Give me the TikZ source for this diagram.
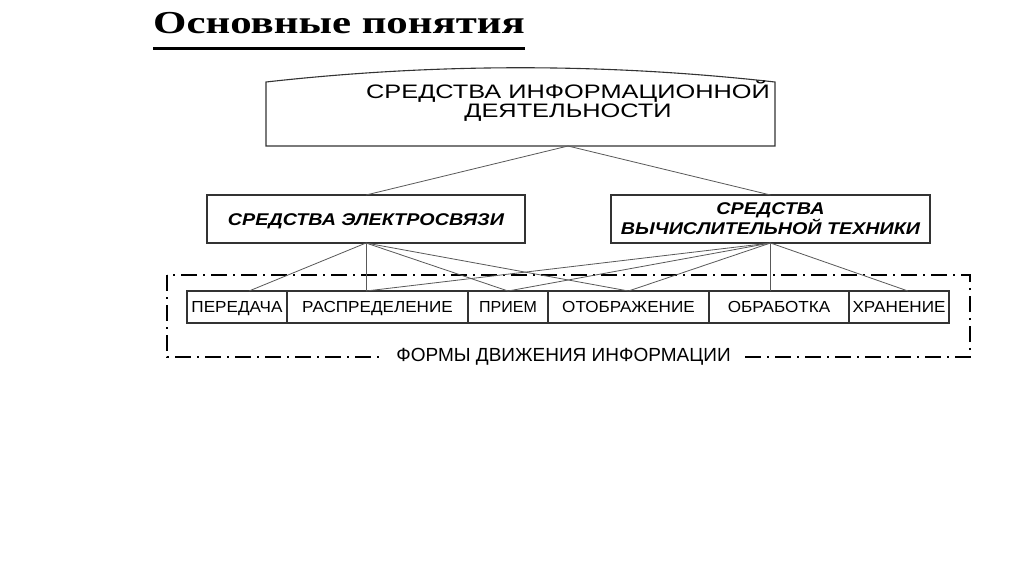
\documentclass[tikz,border=0pt]{standalone}
\usepackage{fontspec}
\setmainfont{Liberation Serif}
\newfontfamily\boxfont{Liberation Sans}
\usetikzlibrary{positioning, calc}

\newcommand{\wide}[2]{\scalebox{#1}[1]{#2}}

\begin{document}
\begin{tikzpicture}[x=1pt, y=-1pt,
    box/.style={draw=black!80, line width=1.1pt, inner sep=0pt, outer sep=0pt},
    form/.style={box, minimum height=32pt, text height=11.5pt, text depth=0pt,
        font=\boxfont\fontsize{16}{17}\selectfont},
    means/.style={box, minimum width=318pt, minimum height=48pt, align=center,
        font=\boxfont\bfseries\itshape\fontsize{17}{18.5}\selectfont},
    link/.style={draw=black!65, line width=0.8pt},
    dashdot frame/.style={line width=1.4pt, dash pattern=on 16pt off 6pt on 2pt off 6pt}]

    % Page
    \fill[white] (0,0) rectangle (1024,574);
    \useasboundingbox (0,0) rectangle (1024,574);

    % Title
    \node[anchor=base west, inner sep=0pt, font=\bfseries\fontsize{32}{34}\selectfont] (title) at (153,33) {\wide{1.34}{Основные понятия}};
    \draw[line width=3pt] ([yshift=-15pt]title.base west) -- ([yshift=-15pt]title.base east);

    % Top box
    \node[minimum width=509pt, minimum height=64pt, inner sep=0pt, outer sep=0pt] (info) at (520.5,114) {};
    \draw[box] (info.south west) -- (info.north west) .. controls (436,63) and (605,63) .. (info.north east) -- (info.south east) -- cycle;
    \node[align=center, font=\boxfont\fontsize{19.5}{19}\selectfont] (infotxt) at (568,101) {\wide{1.3}{СРЕДСТВА ИНФОРМАЦИОННОЙ}\\ \wide{1.3}{ДЕЯТЕЛЬНОСТИ}};

    % Means
    \node[means, text height=12.2pt, text depth=0pt] (electro) at (366,219) {\wide{1.16}{СРЕДСТВА ЭЛЕКТРОСВЯЗИ}};
    \node[means, minimum width=319pt] (comp) at (770.5,219) {\wide{1.16}{СРЕДСТВА}\\ \wide{1.16}{ВЫЧИСЛИТЕЛЬНОЙ ТЕХНИКИ}};

    % Forms
    \node[form, minimum width=100pt, anchor=west] (peredacha) at (187,307) {\wide{1.07}{ПЕРЕДАЧА}};
    \node[form, minimum width=181pt, right=0pt of peredacha] (raspred) {\wide{1.07}{РАСПРЕДЕЛЕНИЕ}};
    \node[form, minimum width=80pt, right=0pt of raspred] (priem) {ПРИЕМ};
    \node[form, minimum width=161pt, right=0pt of priem] (otobr) {\wide{1.07}{ОТОБРАЖЕНИЕ}};
    \node[form, minimum width=140pt, right=0pt of otobr] (obrab) {\wide{1.07}{ОБРАБОТКА}};
    \node[form, minimum width=100pt, right=0pt of obrab] (hran) {\wide{1.07}{ХРАНЕНИЕ}};

    % Frame
    \draw[dashdot frame] (167,275) rectangle (970,357);
    \node[fill=white, inner xsep=14pt, inner ysep=3pt, text height=13.6pt, text depth=0pt, font=\boxfont\fontsize{19}{20}\selectfont] (formslbl) at (563.5,355) {ФОРМЫ ДВИЖЕНИЯ ИНФОРМАЦИИ};

    % Connections
    \draw[link] (infotxt |- info.south) -- (electro.north);
    \draw[link] (infotxt |- info.south) -- (comp.north);
    \draw[link] (electro.south) -- ([xshift=12pt]peredacha.north);
    \draw[link] (electro.south) -- (electro.south |- raspred.north);
    \draw[link] (electro.south) -- (priem.north);
    \draw[link] (electro.south) -- (otobr.north);
    \draw[link] (comp.south) -- (electro.south |- raspred.north);
    \draw[link] (comp.south) -- (priem.north);
    \draw[link] (comp.south) -- (otobr.north);
    \draw[link] (comp.south) -- (comp.south |- obrab.north);
    \draw[link] (comp.south) -- ([xshift=9pt]hran.north);
\end{tikzpicture}
\end{document}
